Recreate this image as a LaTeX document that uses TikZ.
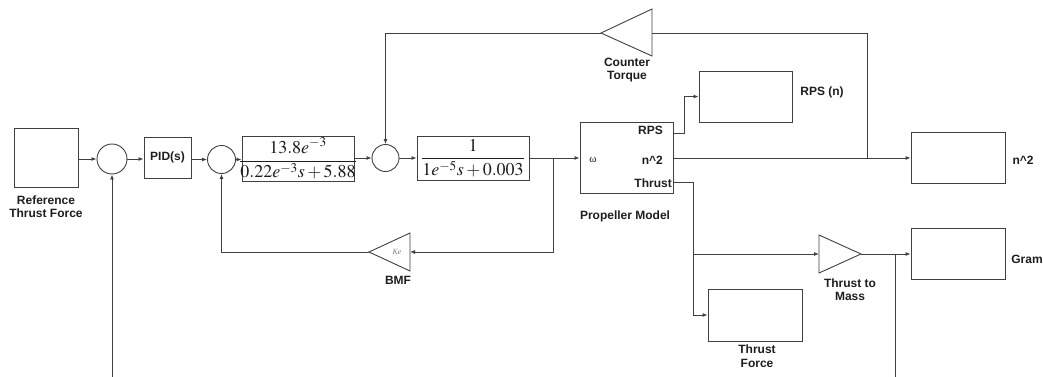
\documentclass[tikz,border=0pt]{standalone}
\usepackage{mathptmx}
\usepackage[no-math]{fontspec}
\newfontfamily\labfont{Liberation Sans}
\newfontfamily\serfont{Liberation Serif}
\usetikzlibrary{arrows.meta}
\definecolor{linecol}{RGB}{64,64,64}
\definecolor{txtcol}{RGB}{30,30,30}
\begin{document}
\begin{tikzpicture}[x=1pt,y=-1pt,
  blk/.style={draw=linecol, line width=0.9pt, rectangle, inner sep=0pt},
  sumc/.style={draw=linecol, line width=0.9pt, circle, inner sep=0pt},
  lbl/.style={font=\labfont\bfseries\fontsize{12}{13.5}\selectfont, text=txtcol, align=center, inner sep=0pt},
  wire/.style={draw=linecol, line width=0.9pt},
  arr/.style={-{Latex[length=5pt,width=4pt]}},
  tri/.style={draw=linecol, line width=0.9pt, line join=miter},
  tfmath/.style={inner sep=0pt, text=txtcol, font=\fontsize{18}{20}\selectfont}]
\useasboundingbox (0,0) rectangle (1043,377);
\fill[white] (0,0) rectangle (1043,377);

% blocks
\node[blk, minimum width=64, minimum height=59] (ref) at (46,157.5) {};
\node[sumc, minimum size=30] (s1) at (112,159) {};
\node[blk, lbl, minimum width=47, minimum height=41] (pid) at (167.5,157.5) {PID(s)};
\node[sumc, minimum size=28] (s2) at (221.5,159.5) {};
\node[blk, minimum width=112, minimum height=45] (tf1) at (298,158.5) {};
\node[tfmath] (tf1t) at (298,158.5) {$\displaystyle\frac{13.8e^{-3}}{0.22e^{-3}s+5.88}$};
\node[sumc, minimum size=27] (s3) at (385.5,158) {};
\node[blk, minimum width=112, minimum height=44] (tf2) at (473,158) {};
\node[tfmath] (tf2t) at (473,158) {$\displaystyle\frac{1}{1e^{-5}s+0.003}$};
\node[blk, minimum width=93, minimum height=71] (prop) at (626.5,157.5) {};
\node[blk, minimum width=93, minimum height=51] (rps) at (745.5,96.5) {};
\node[blk, minimum width=94, minimum height=51] (n2) at (958,157.5) {};
\node[blk, minimum width=94, minimum height=51] (gram) at (958,253.5) {};
\node[blk, minimum width=94, minimum height=52] (tfb) at (755,315) {};

% gain triangles
\draw[tri] (601,33) -- (652,9) -- (652,56) -- cycle;
\coordinate (ctTip) at (601,33);
\coordinate (ctBase) at (652,33);
\draw[tri] (369,252) -- (410,233) -- (410,271) -- cycle;
\coordinate (keTip) at (369,252);
\coordinate (keBase) at (410,252);
\draw[tri] (819,235) -- (861,254) -- (819,273) -- cycle;
\coordinate (ttmBase) at (819,254);
\coordinate (ttmTip) at (861,254);
\node[font=\serfont\itshape\fontsize{8}{9}\selectfont, text=gray, inner sep=0pt] (ke) at (397,252) {Ke};

% propeller ports and texts
\node[lbl, anchor=east] (tRPS) at (663,130) {RPS};
\node[lbl, anchor=east] (tN2) at (663,160) {n\textasciicircum 2};
\node[lbl, anchor=east] (tThr) at (672,183) {Thrust};
\node[font=\serfont\fontsize{11}{12}\selectfont, text=txtcol, inner sep=0pt] (tw) at (593,160) {ω};
\coordinate (pR) at (673,133);
\coordinate (pN) at (673,158);
\coordinate (pT) at (673,182);

% labels
\node[lbl] (lref) at (46,206.5) {Reference\\Thrust Force};
\node[lbl] (lprop) at (625,216) {Propeller Model};
\node[lbl] (lrps) at (822,92) {RPS (n)};
\node[lbl] (ln2) at (1023,160) {n\textasciicircum 2};
\node[lbl] (lgram) at (1027,259) {Gram};
\node[lbl] (lct) at (627,70) {Counter\\Torque};
\node[lbl] (lbmf) at (398,280) {BMF};
\node[lbl] (lttm) at (850,289.5) {Thrust to\\Mass};
\node[lbl] (ltf) at (757,356) {Thrust\\Force};

% junctions
\coordinate (j1) at (553,158);
\coordinate (j2) at (867,158);
\coordinate (jR) at (684,133);
\coordinate (jT) at (693,182);
\coordinate (j3) at (693,254);
\coordinate (j4) at (895,254);
\coordinate (b1) at (112,377);
\coordinate (b2) at (895,377);

% connectors
\draw[wire,arr] (ref.east |- s1.west) -- (s1.west);
\draw[wire,arr] (s1.east) -- (pid.west |- s1.east);
\draw[wire,arr] (pid.east |- s2.west) -- (s2.west);
\draw[wire,arr] (s2.east) -- (tf1.west |- s2.east);
\draw[wire,arr] (tf1.east |- s3.west) -- (s3.west);
\draw[wire,arr] (s3.east) -- (tf2.west |- s3.east);
\draw[wire,arr] (tf2.east |- s3.east) -- (prop.west |- s3.east);
\draw[wire,arr] (j1) |- (keBase);
\draw[wire,arr] (keTip) -| (s2.south);
\draw[wire,arr] (b1) -- (s1.south);
\draw[wire,arr] (pR) -- (jR) |- (rps.west);
\draw[wire,arr] (pN) -- (n2.west |- pN);
\draw[wire] (j2) |- (ctBase);
\draw[wire,arr] (ctTip) -| (s3.north);
\draw[wire,arr] (pT) -- (jT) |- (tfb.west);
\draw[wire,arr] (j3) -- (ttmBase);
\draw[wire,arr] (ttmTip) -- (gram.west |- ttmTip);
\draw[wire] (j4) -- (b2);
\end{tikzpicture}
\end{document}
